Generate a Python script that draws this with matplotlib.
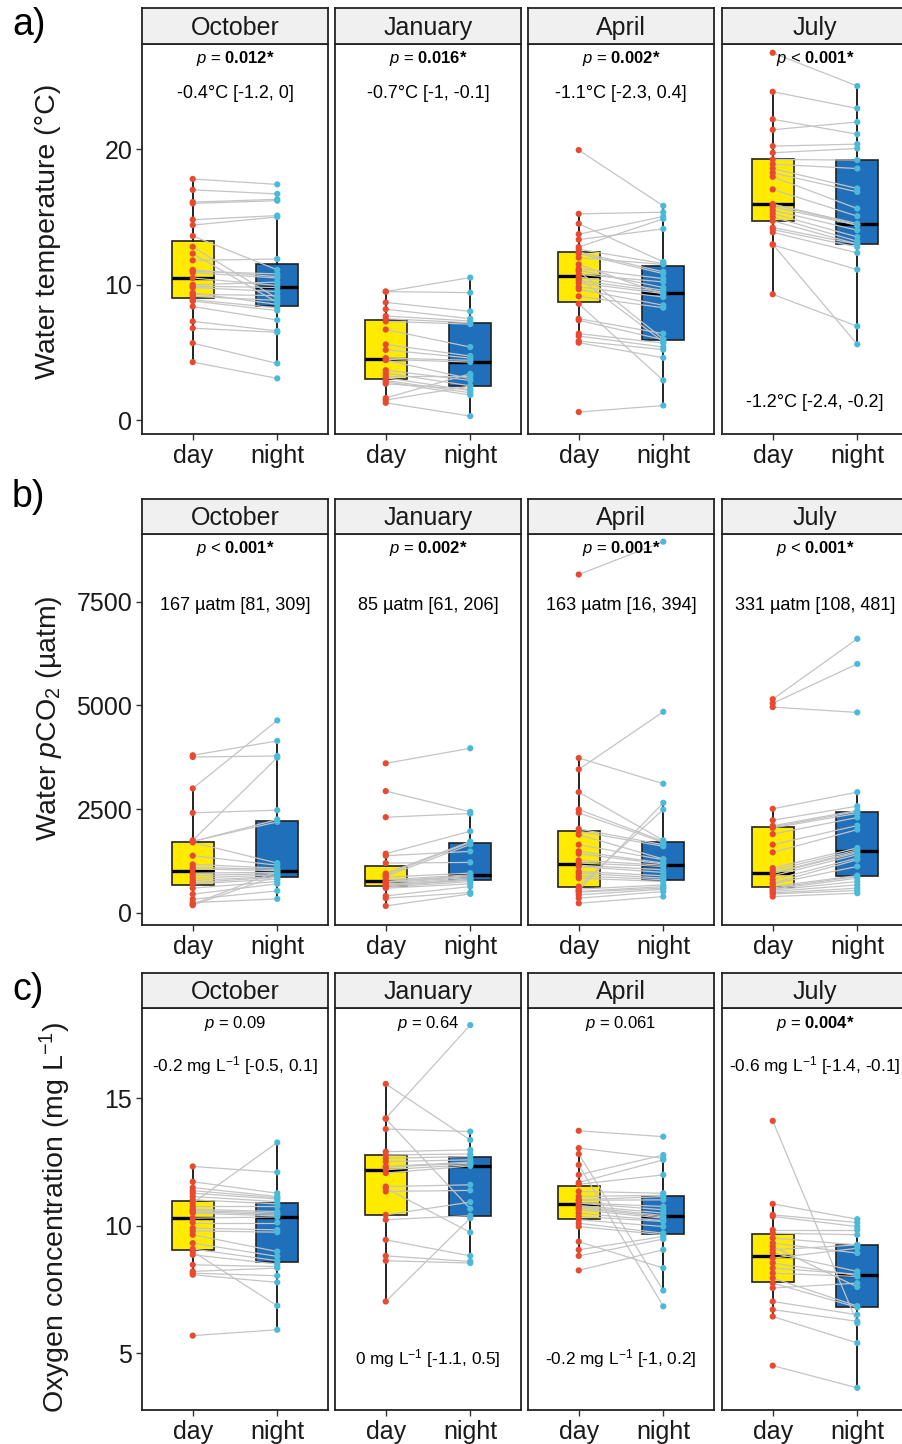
import matplotlib
matplotlib.use("Agg")
import matplotlib.pyplot as plt

plt.rcParams["font.family"] = ["Liberation Sans", "DejaVu Sans"]
plt.rcParams["mathtext.fontset"] = "custom"
plt.rcParams["mathtext.rm"] = "Liberation Sans"
plt.rcParams["mathtext.it"] = "Liberation Sans:italic"
plt.rcParams["mathtext.bf"] = "Liberation Sans:bold"

months = ["October", "January", "April", "July"]
groups = ["day", "night"]

# water temperature (°C), paired day/night samples per site
temp_oct_day = [17.8, 17.0, 16.1, 16.0, 14.8, 14.4, 13.6, 12.8, 12.3, 11.8, 11.1, 11.0, 10.9, 10.5,
                10.0, 9.9, 9.8, 9.4, 9.3, 9.15, 8.9, 8.8, 8.4, 7.3, 6.8, 5.7, 4.3]
temp_oct_night = [17.4, 16.7, 16.3, 16.2, 15.1, 15.0, 11.1, 9.0, 8.7, 11.9, 10.6, 10.8, 10.5, 9.95,
                  10.2, 9.8, 9.5, 8.55, 9.2, 8.85, 8.3, 8.1, 7.4, 6.6, 6.5, 4.2, 3.1]
temp_jan_day = [9.5, 9.5, 8.7, 8.2, 7.7, 7.5, 7.3, 6.7, 5.6, 5.2, 4.6, 4.5, 4.45, 3.7, 3.5, 3.3,
                3.15, 2.95, 2.85, 2.7, 1.65, 1.5, 1.3]
temp_jan_night = [10.53, 9.42, 8.04, 7.5, 7.33, 7.2, 7.1, 5.41, 4.75, 4.6, 4.43, 4.3, 3.07, 2.95,
                  2.55, 3.3, 2.2, 2.04, 1.87, 2.3, 3.44, 2.53, 0.32]
temp_apr_day = [19.93, 15.23, 14.5, 13.73, 13.33, 12.79, 12.62, 12.42, 12.3, 12.0, 11.5, 11.19, 11.07,
                11.0, 10.77, 10.58, 10.5, 10.33, 10.14, 9.84, 9.67, 9.15, 8.6, 7.5, 7.38, 6.4, 6.22,
                5.85, 5.73, 0.62]
temp_apr_night = [15.82, 15.35, 11.69, 15.03, 14.12, 14.86, 11.56, 10.95, 10.82, 11.5, 9.3, 10.46,
                  9.8, 6.0, 10.21, 9.59, 5.8, 9.47, 9.35, 9.1, 8.49, 8.31, 2.95, 6.4, 5.95, 5.7,
                  5.41, 5.22, 4.62, 1.1]
temp_jul_day = [27.1, 24.23, 22.2, 21.43, 20.22, 19.73, 19.24, 18.89, 18.57, 18.25, 17.96, 17.03,
                15.95, 15.92, 15.74, 15.5, 15.25, 15.0, 14.71, 14.22, 14.07, 13.87, 12.99, 12.94, 9.3]
temp_jul_night = [24.65, 23.0, 21.1, 22.0, 20.37, 20.05, 19.19, 18.57, 17.1, 16.85, 15.62, 15.06,
                  14.51, 14.4, 14.39, 14.02, 13.53, 13.21, 13.0, 12.99, 12.79, 12.35, 5.61, 11.12, 6.94]

# water pCO2 (µatm)
pco2_oct_day = [3799, 3758, 3000, 2412, 1750, 1726, 1720, 1700, 1379, 1169, 1100, 1060, 960, 900,
                839, 782, 734, 700, 597, 452, 331, 250, 210, 186]
pco2_oct_night = [4145, 3782, 4638, 2476, 3743, 2194, 2250, 1202, 1150, 1081, 1050, 1020, 980, 950,
                  919, 879, 860, 815, 758, 702, 532, 339, 1000, 900]
pco2_jan_day = [3605, 2936, 2307, 1428, 1379, 1202, 950, 919, 880, 863, 798, 760, 750, 734, 700,
                677, 650, 620, 597, 411, 355, 169]
pco2_jan_night = [3968, 2436, 2395, 1968, 1484, 1218, 1720, 1700, 1650, 960, 919, 900, 879, 850,
                  820, 798, 790, 758, 702, 637, 492, 460]
pco2_apr_day = [8154, 3734, 3460, 2911, 2492, 2412, 2025, 1968, 1887, 1645, 1484, 1428, 1266, 1202,
                1150, 1121, 1000, 960, 895, 839, 637, 573, 550, 516, 500, 435, 355, 234]
pco2_apr_night = [8945, 3113, 4847, 1750, 1726, 1700, 1645, 1605, 1300, 1282, 1202, 1180, 1150, 1121,
                  1040, 976, 895, 839, 800, 758, 2492, 677, 2654, 637, 600, 573, 516, 395]
pco2_jul_day = [5150, 5050, 4960, 2509, 2234, 2100, 2073, 2050, 1900, 1645, 1460, 1081, 1024, 960,
                950, 895, 798, 718, 700, 637, 600, 573, 550, 516, 480, 460, 395]
pco2_jul_night = [6605, 6000, 4831, 2911, 2573, 2470, 2444, 2400, 2300, 2105, 2008, 1565, 1520, 1484,
                  1450, 1403, 1323, 1282, 1121, 900, 880, 839, 758, 677, 597, 540, 476]

# dissolved oxygen (mg/L)
oxy_oct_day = [12.33, 11.73, 11.5, 11.38, 11.28, 11.15, 11.02, 10.89, 10.76, 10.65, 10.6, 10.55, 10.5,
               10.3, 10.13, 9.91, 9.8, 9.65, 9.32, 9.09, 8.99, 8.86, 8.47, 8.21, 8.14, 8.08, 5.69]
oxy_oct_night = [12.1, 11.28, 11.15, 11.1, 11.05, 10.95, 10.86, 13.27, 10.76, 10.56, 10.5, 10.45, 10.39,
                 10.35, 10.13, 9.84, 9.75, 8.99, 8.8, 8.63, 6.86, 8.5, 8.4, 8.34, 8.04, 7.78, 5.92]
oxy_jan_day = [15.57, 14.22, 14.2, 13.8, 12.91, 12.78, 12.65, 12.52, 12.33, 12.3, 12.2, 12.07, 11.54,
               11.48, 11.35, 10.43, 10.24, 9.45, 8.82, 8.63, 7.03]
oxy_jan_night = [13.37, 17.88, 10.67, 13.7, 12.98, 12.82, 12.72, 12.59, 12.5, 12.46, 12.4, 12.35, 11.61,
                 9.74, 11.39, 10.93, 10.4, 8.82, 8.6, 8.54, 10.3]
oxy_apr_day = [13.73, 13.05, 12.82, 12.39, 12.0, 11.7, 11.63, 11.35, 11.15, 11.02, 11.0, 10.9, 10.89,
               10.8, 10.76, 10.7, 10.63, 10.5, 10.37, 10.24, 10.1, 9.97, 9.38, 9.06, 8.82, 8.25]
oxy_apr_night = [13.5, 12.65, 7.46, 6.84, 12.78, 12.59, 12.0, 11.28, 11.2, 11.15, 11.02, 10.76, 10.63,
                 10.5, 10.4, 10.35, 10.3, 10.2, 10.17, 9.97, 9.71, 9.65, 8.34, 9.58, 9.48, 9.06]
oxy_jul_day = [14.12, 10.86, 10.43, 10.37, 9.84, 9.71, 9.52, 9.32, 9.19, 9.06, 8.93, 8.73, 8.54, 8.34,
               8.14, 7.95, 7.75, 7.56, 7.03, 6.71, 6.44, 4.51]
oxy_jul_night = [6.18, 10.26, 10.13, 9.97, 9.84, 9.65, 9.25, 8.93, 7.6, 9.25, 8.21, 9.12, 8.05, 8.1,
                 8.01, 6.85, 6.8, 7.75, 6.51, 6.25, 5.4, 3.64]

# paired test results and median differences [95% CI]
temp_p = [r"$\mathit{p}$ = $\mathbf{0.012{*}}$", r"$\mathit{p}$ = $\mathbf{0.016{*}}$",
          r"$\mathit{p}$ = $\mathbf{0.002{*}}$", r"$\mathit{p}$ < $\mathbf{0.001{*}}$"]
temp_eff = ["-0.4°C [-1.2, 0]", "-0.7°C [-1, -0.1]", "-1.1°C [-2.3, 0.4]", "-1.2°C [-2.4, -0.2]"]
pco2_p = [r"$\mathit{p}$ < $\mathbf{0.001{*}}$", r"$\mathit{p}$ = $\mathbf{0.002{*}}$",
          r"$\mathit{p}$ = $\mathbf{0.001{*}}$", r"$\mathit{p}$ < $\mathbf{0.001{*}}$"]
pco2_eff = ["167 µatm [81, 309]", "85 µatm [61, 206]", "163 µatm [16, 394]", "331 µatm [108, 481]"]
oxy_p = [r"$\mathit{p}$ = 0.09", r"$\mathit{p}$ = 0.64", r"$\mathit{p}$ = 0.061",
         r"$\mathit{p}$ = $\mathbf{0.004{*}}$"]
oxy_eff = [r"-0.2 mg L$^{-1}$ [-0.5, 0.1]", r"0 mg L$^{-1}$ [-1.1, 0.5]",
           r"-0.2 mg L$^{-1}$ [-1, 0.2]", r"-0.6 mg L$^{-1}$ [-1.4, -0.1]"]

YELLOW = "#ffea00"
BLUE = "#1f6fbb"
RED = "#e84a2f"
CYAN = "#4bb9d9"
W, H = 902, 1444

rows = [
    dict(tag="a)", ylab="Water temperature (°C)", ylim=(-1.0, 27.75), yticks=[0, 10, 20],
         data=[(temp_oct_day, temp_oct_night), (temp_jan_day, temp_jan_night),
               (temp_apr_day, temp_apr_night), (temp_jul_day, temp_jul_night)],
         p=temp_p, eff=temp_eff, eff_y=[0.874, 0.874, 0.874, 0.082], eff_fs=13,
         top=44, bottom=434, strip=8, tag_y=25, ylab_x=48, ylab_y=231),
    dict(tag="b)", ylab=r"Water $\mathit{p}$CO$_2$ (µatm)", ylim=(-290, 9130),
         yticks=[0, 2500, 5000, 7500],
         data=[(pco2_oct_day, pco2_oct_night), (pco2_jan_day, pco2_jan_night),
               (pco2_apr_day, pco2_apr_night), (pco2_jul_day, pco2_jul_night)],
         p=pco2_p, eff=pco2_eff, eff_y=[0.816] * 4, eff_fs=13,
         top=534, bottom=925, strip=499, tag_y=497, ylab_x=49, ylab_y=718),
    dict(tag="c)", ylab=r"Oxygen concentration (mg L$^{-1}$)", ylim=(2.77, 18.55),
         yticks=[5, 10, 15],
         data=[(oxy_oct_day, oxy_oct_night), (oxy_jan_day, oxy_jan_night),
               (oxy_apr_day, oxy_apr_night), (oxy_jul_day, oxy_jul_night)],
         p=oxy_p, eff=oxy_eff, eff_y=[0.856, 0.129, 0.129, 0.856], eff_fs=12.4,
         top=1008, bottom=1410, strip=973, tag_y=990, ylab_x=55, ylab_y=1217),
]
col_left = [142, 335, 528, 722]
col_w = 186

fig = plt.figure(figsize=(W / 100, H / 100), dpi=100)

for row in rows:
    b = (H - row["bottom"]) / H
    h = (row["bottom"] - row["top"]) / H
    for j, (day, night) in enumerate(row["data"]):
        ax = fig.add_axes([col_left[j] / W, b, col_w / W, h])
        bp = ax.boxplot([day, night], positions=[1, 2], widths=0.5, whis=1.5,
                        showfliers=False, showcaps=False, patch_artist=True, zorder=2,
                        medianprops=dict(color="black", lw=2.4),
                        whiskerprops=dict(color="#222222", lw=1.4),
                        boxprops=dict(edgecolor="#222222", lw=1.2))
        for patch, fc in zip(bp["boxes"], [YELLOW, BLUE]):
            patch.set_facecolor(fc)
        for d, n in zip(day, night):
            ax.plot([1, 2], [d, n], color="#c4c4c4", lw=0.9, zorder=3)
        ax.scatter([1] * len(day), day, s=20, color=RED, edgecolors="none", zorder=4)
        ax.scatter([2] * len(night), night, s=20, color=CYAN, edgecolors="none", zorder=4)

        ax.set_xlim(0.4, 2.6)
        ax.set_ylim(*row["ylim"])
        ax.set_xticks([1, 2])
        ax.set_xticklabels(groups, fontsize=18, color="#1a1a1a")
        ax.set_yticks(row["yticks"])
        if j == 0:
            ax.set_yticklabels([str(t) for t in row["yticks"]], fontsize=18, color="#1a1a1a")
        else:
            ax.tick_params(axis="y", left=False, labelleft=False)
        ax.tick_params(length=4, width=1, color="#333333", pad=3)
        for sp in ax.spines.values():
            sp.set_color("#222222")
            sp.set_linewidth(1.3)

        ax.text(1.5, 0.962, row["p"][j], transform=ax.get_xaxis_transform(),
                ha="center", va="center", fontsize=12, color="black")
        ax.text(1.5, row["eff_y"][j], row["eff"][j], transform=ax.get_xaxis_transform(),
                ha="center", va="center", fontsize=row["eff_fs"], color="black")

        # facet strip
        sax = fig.add_axes([col_left[j] / W, (H - row["top"]) / H, col_w / W,
                            (row["top"] - row["strip"]) / H])
        sax.set_facecolor("#f0f0f0")
        sax.set_xticks([])
        sax.set_yticks([])
        for sp in sax.spines.values():
            sp.set_color("#222222")
            sp.set_linewidth(1.3)
        sax.text(0.5, 0.45, months[j], transform=sax.transAxes, ha="center", va="center",
                 fontsize=18, color="#1a1a1a")

    fig.text(12 / W, 1 - row["tag_y"] / H, row["tag"], ha="left", va="center", fontsize=27)
    fig.text(row["ylab_x"] / W, 1 - row["ylab_y"] / H, row["ylab"],
             rotation=90, ha="center", va="center", fontsize=20.5, color="#1a1a1a")

fig.savefig("out.png", dpi=100)
